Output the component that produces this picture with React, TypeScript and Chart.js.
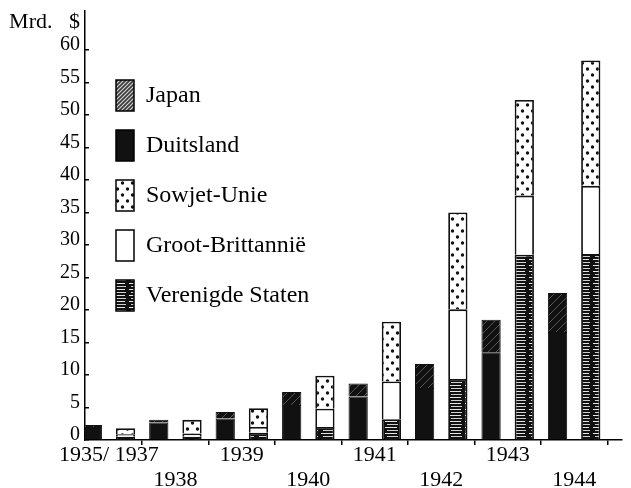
import React, { useEffect, useRef } from 'react';
import { Chart, registerables } from 'chart.js';

Chart.register(...registerables);

// ---- data (values in Mrd. $) ----
const categories = ['1935/ 1937', '1938', '1939', '1940', '1941', '1942', '1943', '1944'];
const duitsland = [2.0, 2.7, 3.3, 5.4, 6.7, 8.0, 13.5, 16.6];
const japan = [0.3, 0.4, 1.0, 2.0, 2.0, 3.7, 5.0, 6.0];
const verenigdeStaten = [0.5, 0.5, 1.1, 2.0, 3.2, 9.4, 28.5, 28.6];
const grootBrittannie = [0.4, 0.5, 0.9, 2.8, 5.8, 10.7, 9.1, 10.5];
const sowjetUnie = [0.9, 2.1, 2.9, 5.1, 9.2, 14.9, 14.7, 19.3];

const yTickValues = [0, 5, 10, 15, 20, 25, 30, 35, 40, 45, 50, 55, 60];
const unitTickValue = 65;
const unitLabel = 'Mrd.   $';
const legendOrder = ['Japan', 'Duitsland', 'Sowjet-Unie', 'Groot-Brittannië', 'Verenigde Staten'];

const FONT = "'Liberation Serif', 'Times New Roman', serif";

function makePattern(
  ctx: CanvasRenderingContext2D,
  w: number,
  h: number,
  draw: (g: CanvasRenderingContext2D) => void
): CanvasPattern {
  const c = document.createElement('canvas');
  c.width = w;
  c.height = h;
  const g = c.getContext('2d') as CanvasRenderingContext2D;
  draw(g);
  return ctx.createPattern(c, 'repeat') as CanvasPattern;
}

export default function App() {
  const ref = useRef<HTMLCanvasElement>(null);

  useEffect(() => {
    const canvas = ref.current as HTMLCanvasElement;
    const ctx = canvas.getContext('2d') as CanvasRenderingContext2D;

    const japanBar = makePattern(ctx, 8, 8, (g) => {
      g.fillStyle = '#111';
      g.fillRect(0, 0, 8, 8);
      g.strokeStyle = '#555';
      g.lineWidth = 1;
      g.beginPath();
      g.moveTo(0, 8); g.lineTo(8, 0);
      g.moveTo(-1, 1); g.lineTo(1, -1);
      g.moveTo(7, 9); g.lineTo(9, 7);
      g.stroke();
    });
    const japanLegend = makePattern(ctx, 4, 4, (g) => {
      g.fillStyle = '#3a3a3a';
      g.fillRect(0, 0, 4, 4);
      g.strokeStyle = '#d8d8d8';
      g.lineWidth = 1.1;
      g.beginPath();
      g.moveTo(0, 4); g.lineTo(4, 0);
      g.moveTo(-1, 1); g.lineTo(1, -1);
      g.moveTo(3, 5); g.lineTo(5, 3);
      g.stroke();
    });
    const usPat = makePattern(ctx, 16, 6, (g) => {
      g.fillStyle = '#111';
      g.fillRect(0, 0, 16, 6);
      g.fillStyle = '#e6e6e6';
      g.fillRect(1, 1, 12, 1);
      g.fillStyle = '#cfcfcf';
      g.fillRect(3, 4, 11, 1);
    });
    const suPat = makePattern(ctx, 10, 12, (g) => {
      g.fillStyle = '#fff';
      g.fillRect(0, 0, 10, 12);
      g.fillStyle = '#111';
      g.beginPath();
      g.arc(2.5, 3, 1.7, 0, Math.PI * 2);
      g.arc(7.5, 9, 1.7, 0, Math.PI * 2);
      g.fill();
    });

    const common = {
      barPercentage: 0.58,
      categoryPercentage: 1.0,
      borderColor: '#111',
    };

    // place the vertical legend inside the plot, top-left
    const legendPlace = {
      id: 'legendPlace',
      afterLayout(chart: any) {
        const l = chart.legend;
        if (l) {
          const pad = 19;
          l.left = 116 - pad;
          l.top = 80 - pad;
          l.right = l.left + l.width;
          l.bottom = chart.chartArea.bottom;
        }
      },
    };

    const chart = new Chart(canvas, {
      type: 'bar',
      data: {
        labels: categories.map((_, i) => i),
        datasets: [
          { ...common, label: 'Duitsland', data: duitsland, stack: 'as', backgroundColor: '#111', borderWidth: 1 },
          { ...common, label: 'Japan', data: japan, stack: 'as', backgroundColor: japanBar, borderWidth: 1 },
          { ...common, label: 'Verenigde Staten', data: verenigdeStaten, stack: 'geallieerden', backgroundColor: usPat, borderWidth: 1.8 },
          { ...common, label: 'Groot-Brittannië', data: grootBrittannie, stack: 'geallieerden', backgroundColor: '#fff', borderWidth: 1.8 },
          { ...common, label: 'Sowjet-Unie', data: sowjetUnie, stack: 'geallieerden', backgroundColor: suPat, borderWidth: 1.8 },
        ],
      },
      options: {
        animation: false,
        responsive: true,
        maintainAspectRatio: false,
        layout: { autoPadding: false, padding: { left: 0, top: 11, right: 9, bottom: 0 } },
        scales: {
          x: {
            type: 'linear',
            offset: false,
            min: -0.36,
            max: 7.72,
            afterBuildTicks: (s: any) => {
              s.ticks = categories.map((_, i) => ({ value: i }));
            },
            afterFit: (s: any) => {
              s.height = 48;
              s.paddingLeft = 0;
              s.paddingRight = 0;
              s.paddingTop = 0;
              s.paddingBottom = 0;
            },
            ticks: {
              autoSkip: false,
              maxRotation: 0,
              minRotation: 0,
              padding: -2.5,
              color: '#000',
              font: { family: FONT, size: 22, lineHeight: '25px' },
              callback: (v: any) => {
                const i = Math.round(Number(v));
                return i % 2 === 0 ? categories[i] : ['', categories[i]];
              },
            },
            grid: { offset: true, drawOnChartArea: false, tickLength: 5, color: '#000', lineWidth: 1.5 },
            border: { color: '#000', width: 1.5 },
          },
          y: {
            stacked: true,
            min: 0,
            max: 66,
            afterBuildTicks: (s: any) => {
              s.ticks = [...yTickValues, unitTickValue].map((v) => ({ value: v }));
            },
            afterFit: (s: any) => {
              s.width = 85;
              s.paddingTop = 0;
              s.paddingBottom = 0;
              s.paddingLeft = 0;
              s.paddingRight = 0;
            },
            ticks: {
              autoSkip: false,
              padding: 9,
              color: '#000',
              font: (c: any) =>
                c.tick && c.tick.value === unitTickValue
                  ? { family: FONT, size: 22, lineHeight: '10px' }
                  : { family: FONT, size: 20, lineHeight: '10px' },
              callback: (v: any) => (Number(v) === unitTickValue ? ['', unitLabel] : [String(v), '']),
            },
            grid: {
              drawOnChartArea: false,
              tickLength: -4,
              color: '#000',
              lineWidth: 1.5,
              tickColor: (c: any) => (c.tick && c.tick.value > 60 ? 'rgba(0,0,0,0)' : '#000'),
            },
            border: { color: '#000', width: 1.5 },
          },
        },
        plugins: {
          tooltip: { enabled: false },
          legend: {
            position: 'chartArea',
            align: 'start',
            labels: {
              boxWidth: 18,
              boxHeight: 31,
              padding: 19,
              color: '#000',
              font: { family: FONT, size: 24 },
              sort: (a: any, b: any) => legendOrder.indexOf(a.text) - legendOrder.indexOf(b.text),
              generateLabels: (ch: any) => {
                const items = (Chart.defaults.plugins.legend.labels as any).generateLabels(ch);
                items.forEach((it: any) => {
                  if (it.text === 'Japan') it.fillStyle = japanLegend;
                  it.lineWidth = 1.5;
                  it.strokeStyle = '#000';
                });
                return items;
              },
            },
          },
        },
      } as any,
      plugins: [legendPlace],
    });

    return () => chart.destroy();
  }, []);

  return (
    <div style={{ position: 'absolute', left: 0, top: 0, width: 631, height: 488, background: '#fff' }}>
      <canvas ref={ref} />
    </div>
  );
}
